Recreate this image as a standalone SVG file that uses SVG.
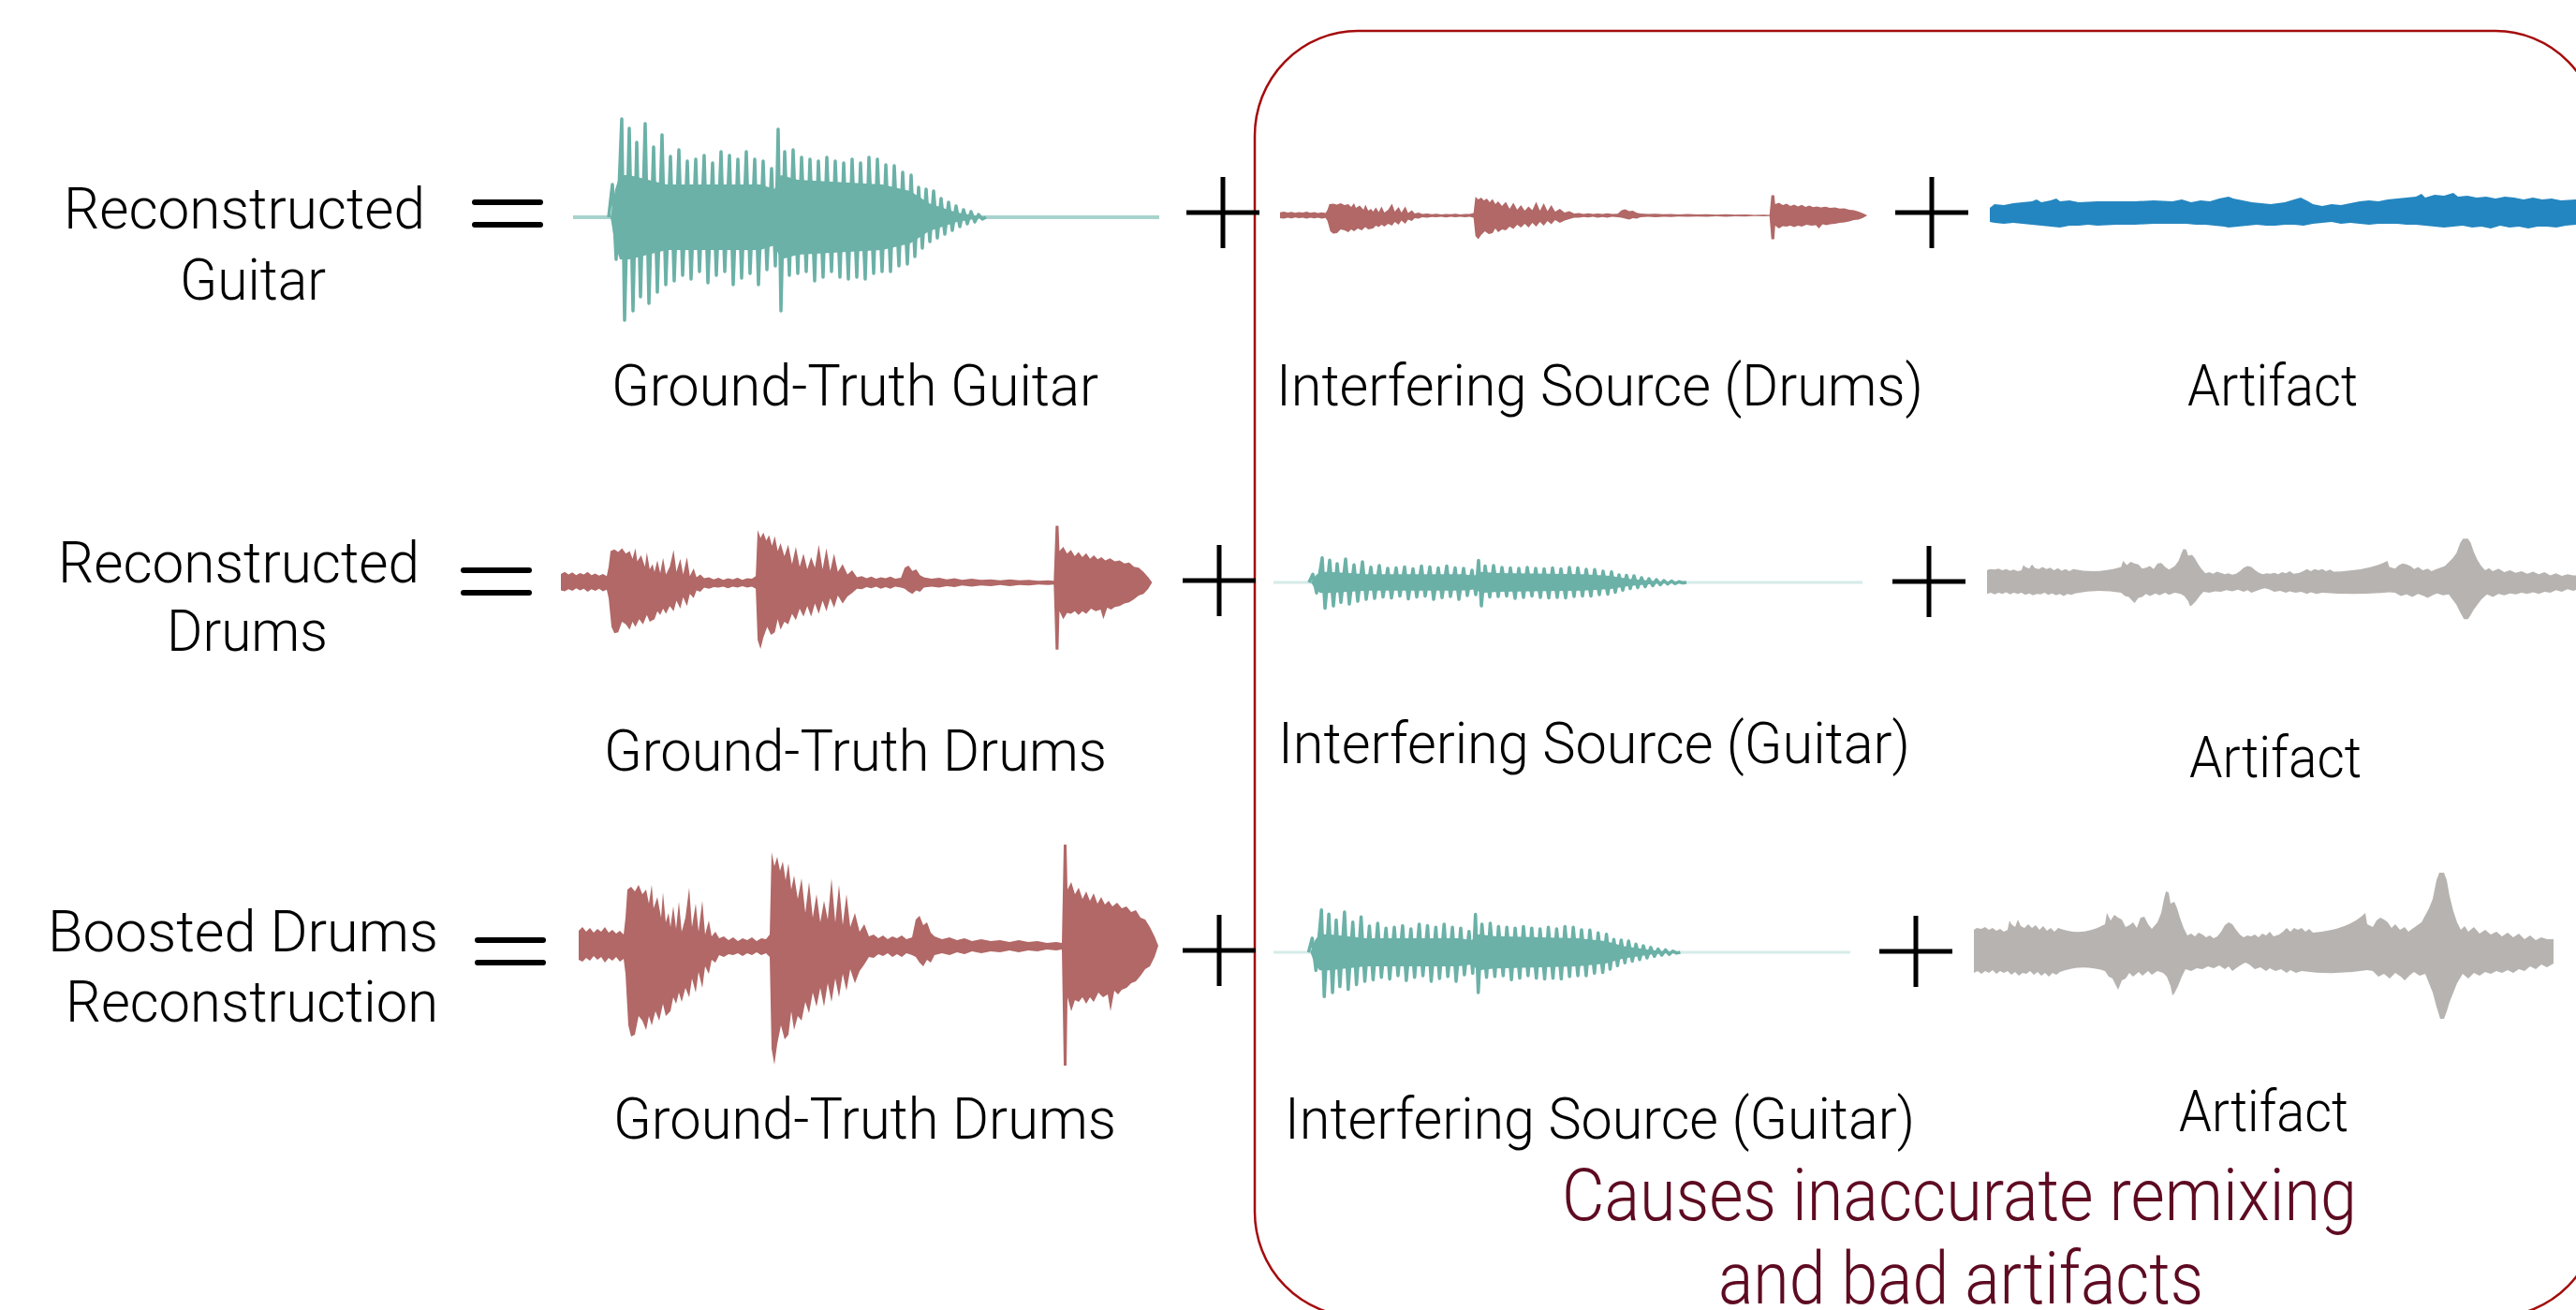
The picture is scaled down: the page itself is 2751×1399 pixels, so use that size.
<svg xmlns="http://www.w3.org/2000/svg" xmlns:xlink="http://www.w3.org/1999/xlink" width="2751" height="1399" viewBox="0 0 2751 1399">
  <style>
    .lbl { font-family: Roboto, "Liberation Sans", Arial, sans-serif; font-weight: 300; font-size: 62px; fill: #000; }
    .note { font-family: Roboto, "Liberation Sans", Arial, sans-serif; font-weight: 300; font-size: 78px; fill: #5e0b22; }
    .op { stroke: #000; stroke-width: 5; fill: none; }
    .eq { stroke: #000; stroke-width: 6; stroke-linecap: round; fill: none; }
    .teal-osc { fill: none; stroke: #6bb1a7; stroke-width: 3.5; stroke-linejoin: round; vector-effect: non-scaling-stroke; }
    .teal-core { fill: #6bb1a7; }
    .drum { fill: #b16867; }
    .noise-blue { fill: #2486c0; }
    .noise-grey { fill: #b7b3b0; }
  </style>
  <defs>
    <!-- plucked guitar note: zigzag oscillation with a dense core, local x 0..626, amplitude ~±105 -->
    <g id="guitarWave">
      <path class="teal-core" d="M40,0 L45,-30 L50,-45 L60,-45 L100,-35 L200,-35 L215,-30 L222,-45 L240,-40 L330,-35 L360,-28 L380,-15 L410,-5 L440,0 L410,5 L380,15 L360,28 L330,35 L240,40 L222,45 L215,30 L200,35 L100,35 L60,45 L50,45 L45,30 Z"/>
      <path class="teal-osc" d="M38,0 L42,-35 L46,45 L52,-105 L55,110 L60,-95 L64,100 L68,-80 L72,85 L77,-100 L81,92 L86,-75 L90,80 L95,-88 L99,72 L104,-65 L108,68 L113,-72 L117,62 L122,-60 L126,66 L131,-62 L135,58 L140,-66 L144,70 L149,-58 L153,62 L158,-70 L162,58 L167,-66 L171,72 L176,-62 L180,65 L185,-70 L189,60 L194,-62 L198,72 L203,-60 L207,56 L212,-52 L216,52 L219,-94 L222,100 L226,-70 L231,62 L235,-72 L240,60 L244,-64 L249,58 L253,-62 L258,68 L262,-60 L267,64 L271,-64 L276,58 L280,-60 L285,64 L289,-58 L294,66 L298,-62 L303,64 L307,-58 L312,66 L316,-64 L321,60 L325,-62 L330,58 L334,-56 L339,58 L343,-55 L348,52 L352,-48 L357,50 L361,-45 L365,42 L369,-32 L373,33 L377,-30 L381,26 L385,-28 L389,22 L393,-20 L397,18 L401,-16 L405,14 L409,-12 L413,10 L417,-8 L421,7 L425,-6 L429,5 L433,-3 L437,2 L441,0"/>
    </g>
    <!-- drum loop envelope: three hits and a small bump, local x 0..619 -->
    <path id="drumWave" class="drum" d="M0,-16 L4,-20 L8,-15 L12,-19 L16,-14 L20,-18 L24,-15 L28,-20 L32,-14 L36,-17 L40,-13 L44,-16 L48,-12 L50,-30 L52,-60 L56,-63 L60,-58 L64,-65 L68,-55 L72,-60 L75,-45 L78,-65 L80,-40 L84,-52 L88,-30 L90,-57 L93,-25 L96,-35 L98,-20 L101,-42 L104,-18 L107,-47 L110,-15 L114,-30 L118,-62 L121,-20 L125,-45 L128,-15 L132,-48 L135,-12 L139,-27 L142,-10 L146,-15 L150,-8 L155,-10 L160,-6 L165,-9 L170,-5 L175,-8 L180,-6 L185,-9 L190,-5 L195,-8 L200,-7 L204,-12 L206,-100 L209,-85 L212,-95 L215,-80 L218,-90 L221,-70 L224,-88 L227,-60 L230,-75 L234,-50 L238,-72 L242,-35 L246,-68 L250,-30 L254,-55 L258,-25 L262,-48 L266,-28 L270,-72 L274,-25 L278,-65 L282,-22 L286,-55 L290,-20 L295,-35 L300,-15 L305,-23 L310,-10 L315,-12 L320,-8 L325,-11 L330,-7 L335,-10 L340,-8 L345,-11 L350,-7 L356,-9 L360,-28 L364,-32 L368,-22 L372,-25 L376,-14 L380,-10 L388,-7 L396,-9 L404,-6 L412,-8 L420,-5 L430,-7 L440,-5 L450,-6 L460,-4 L470,-6 L480,-4 L490,-5 L500,-3 L510,-4 L516,-3 L518,-108 L521,-108 L522,-60 L526,-68 L530,-55 L534,-62 L538,-50 L542,-58 L546,-48 L550,-56 L554,-45 L558,-52 L562,-44 L566,-48 L570,-42 L575,-46 L580,-40 L585,-42 L590,-36 L595,-38 L600,-30 L605,-28 L610,-20 L615,-10 L619,0 L615,12 L610,22 L605,25 L600,32 L595,38 L590,40 L585,45 L580,47 L576,52 L572,48 L568,70 L565,52 L560,55 L555,50 L550,60 L546,55 L542,62 L538,55 L534,60 L530,58 L526,70 L522,55 L521,128 L518,128 L516,4 L510,5 L500,4 L490,6 L480,5 L470,7 L460,5 L450,7 L440,6 L430,8 L420,6 L412,9 L404,7 L396,10 L388,8 L380,10 L376,18 L372,15 L368,22 L364,18 L360,12 L356,10 L350,8 L345,12 L340,9 L335,12 L330,8 L325,11 L320,9 L315,13 L310,12 L305,20 L300,27 L295,40 L290,25 L286,48 L282,30 L278,55 L274,35 L270,60 L266,40 L262,65 L258,45 L254,65 L250,50 L246,72 L242,60 L238,80 L234,75 L230,90 L227,70 L224,95 L220,100 L216,85 L212,105 L209,127 L206,110 L204,12 L200,8 L195,10 L190,7 L185,10 L180,8 L175,11 L170,8 L165,10 L160,9 L155,12 L150,10 L146,18 L142,15 L139,30 L135,22 L132,45 L128,28 L125,50 L121,35 L118,55 L114,45 L110,60 L107,50 L104,62 L101,55 L98,70 L93,75 L90,62 L86,80 L82,70 L78,85 L75,75 L72,90 L68,80 L64,75 L60,95 L56,97 L53,85 L50,30 L48,14 L44,17 L40,12 L36,16 L32,13 L28,18 L24,12 L20,15 L16,11 L12,16 L8,13 L4,17 L0,15 Z"/>
    <!-- residual artifact envelope, local x 0..619 -->
    <path id="greyWave" class="noise-grey" d="M0,-22 L3,-24 L8,-23 L12,-25 L16,-22 L20,-24 L24,-21 L28,-23 L32,-20 L36,-22 L38,-32 L40,-28 L44,-25 L47,-33 L50,-26 L54,-24 L58,-28 L62,-24 L66,-27 L70,-22 L74,-26 L78,-21 L82,-24 L86,-20 L90,-24 Q115,-14 140,-28 L142,-40 L146,-32 L150,-38 L154,-35 L158,-33 L162,-25 L166,-27 L170,-30 L174,-24 L178,-35 L182,-36 L186,-28 L190,-23 L196,-30 L200,-40 L203,-55 L205,-63 L208,-62 L210,-50 L214,-52 L217,-45 L220,-35 L224,-24 L228,-16 L232,-18 L236,-15 L240,-19 L244,-17 L248,-14 L252,-16 L256,-13 L260,-15 L264,-20 L268,-27 L272,-30 L276,-28 L280,-22 L284,-17 L288,-14 L292,-16 L296,-15 L300,-17 L304,-14 L308,-18 L312,-16 L316,-20 L320,-15 L326,-17 L330,-20 L334,-24 L338,-20 L342,-24 L346,-22 L350,-24 L354,-20 L358,-23 L362,-19 Q400,-22 418,-40 L420,-28 L426,-25 L430,-32 L434,-35 L438,-33 L442,-30 L446,-24 L450,-28 L455,-22 L460,-25 L464,-20 L468,-23 L478,-30 L486,-45 L490,-55 L494,-75 L497,-83 L502,-83 L505,-75 L508,-58 L512,-42 L516,-30 L520,-22 L524,-26 L528,-20 L534,-25 L540,-18 L546,-22 L552,-17 L558,-20 L564,-15 L570,-19 L576,-14 L582,-18 L588,-12 L594,-16 L600,-11 L606,-14 L612,-12 L619,-12 L619,14 L612,18 L606,15 L600,20 L594,17 L588,22 L582,20 L576,24 L570,21 L564,24 L558,22 L552,25 L546,23 L540,27 L534,24 L528,30 L522,25 L516,35 L512,45 L508,55 L505,65 L502,73 L498,73 L494,60 L490,45 L486,35 L482,25 L476,27 L470,23 L466,26 L460,32 L456,28 L450,24 L444,30 L438,25 L432,28 L426,22 L420,21 Q385,27 350,22 L344,24 L338,21 L334,24 L328,20 L322,22 L316,19 L312,22 L306,18 L300,20 L294,15 L290,13 L286,15 L280,19 L276,22 L272,17 L268,20 L262,16 L256,19 L250,17 L244,20 L238,19 L232,22 L226,20 L222,28 L218,38 L214,46 L212,48 L210,38 L206,28 L202,24 L196,22 L190,26 L186,22 L180,27 L176,23 L170,28 L166,24 L162,30 L158,32 L154,42 L152,38 L148,30 L144,28 L140,22 Q115,14 92,23 L88,26 L84,24 L80,28 L76,24 L72,27 L68,23 L64,26 L60,22 L56,25 L52,24 L48,27 L44,23 L40,26 L36,22 L32,24 L28,22 L24,25 L20,21 L16,24 L12,22 L8,25 L4,22 L0,24 Z"/>
    <g id="plus">
      <line class="op" x1="-39" y1="0" x2="39" y2="0"/>
      <line class="op" x1="0" y1="-38" x2="0" y2="38"/>
    </g>
    <g id="equals">
      <line class="eq" x1="-35" y1="-12" x2="35" y2="-12"/>
      <line class="eq" x1="-35" y1="12" x2="35" y2="12"/>
    </g>
  </defs>

  <rect width="2751" height="1399" fill="#fff"/>

  <!-- highlight frame around the unwanted components -->
  <g id="highlight-frame">
    <rect x="1340" y="33" width="1435" height="1373" rx="110" ry="112" fill="none" stroke="#a40c0c" stroke-width="2.5"/>
  </g>

  <!-- row 1: guitar -->
  <g id="row1-label">
    <text class="lbl" x="68" y="244" textLength="386" lengthAdjust="spacingAndGlyphs">Reconstructed</text>
    <text class="lbl" x="192" y="320" textLength="156" lengthAdjust="spacingAndGlyphs">Guitar</text>
  </g>
  <g id="row1-gt-guitar">
    <line x1="612" y1="232" x2="1238" y2="232" stroke="#a8d3cc" stroke-width="4"/>
    <use xlink:href="#guitarWave" transform="translate(612,232)"/>
    <text class="lbl" x="653" y="433" textLength="520" lengthAdjust="spacingAndGlyphs">Ground-Truth Guitar</text>
  </g>
  <g id="row1-interf-drums">
    <use xlink:href="#drumWave" transform="translate(1367,230) scale(1.013,0.2)"/>
    <text class="lbl" x="1363" y="433" textLength="691" lengthAdjust="spacingAndGlyphs">Interfering Source (Drums)</text>
  </g>
  <g id="row1-artifact">
    <path class="noise-blue" d="M2125,222 L2130,218 L2140,219 L2150,217 L2160,216 L2170,215 L2175,213 L2180,216 L2190,214 L2196,212 L2200,215 L2210,214 L2220,216 L2240,215 L2260,215 L2280,215 L2300,214 L2320,215 L2330,213 L2340,216 L2350,214 L2360,215 L2370,212 L2380,210 L2385,212 L2395,214 L2405,216 L2415,217 L2425,218 L2440,216 L2450,213 L2457,211 L2465,215 L2470,218 L2480,220 L2490,218 L2500,219 L2510,217 L2520,215 L2530,214 L2540,215 L2550,213 L2560,212 L2570,211 L2580,210 L2586,207 L2590,211 L2600,208 L2610,209 L2620,206 L2625,210 L2635,209 L2645,211 L2655,210 L2665,212 L2675,210 L2685,211 L2695,213 L2705,211 L2715,213 L2725,212 L2735,214 L2751,213 L2751,240 L2740,241 L2730,243 L2720,242 L2710,242 L2700,244 L2690,242 L2680,243 L2670,241 L2660,244 L2650,242 L2640,243 L2630,241 L2620,242 L2610,243 L2600,242 L2590,241 L2580,240 L2570,240 L2560,239 L2550,239 L2540,239 L2530,240 L2520,239 L2510,238 L2500,239 L2490,237 L2480,238 L2470,239 L2460,241 L2450,240 L2440,240 L2430,241 L2420,241 L2410,240 L2400,241 L2390,242 L2380,243 L2375,242 L2365,241 L2355,240 L2345,240 L2335,239 L2320,239 L2300,239 L2280,240 L2260,240 L2240,241 L2230,240 L2220,241 L2210,241 L2200,243 L2190,242 L2180,241 L2170,240 L2160,239 L2150,238 L2140,239 L2130,238 L2125,237 Z"/>
    <text class="lbl" x="2336" y="433" textLength="182" lengthAdjust="spacingAndGlyphs">Artifact</text>
  </g>

  <!-- row 2: drums -->
  <g id="row2-label">
    <text class="lbl" x="62" y="622" textLength="386" lengthAdjust="spacingAndGlyphs">Reconstructed</text>
    <text class="lbl" x="178" y="695" textLength="172" lengthAdjust="spacingAndGlyphs">Drums</text>
  </g>
  <g id="row2-gt-drums">
    <use xlink:href="#drumWave" transform="translate(599,622) scale(1.02,0.56)"/>
    <text class="lbl" x="645" y="823" textLength="537" lengthAdjust="spacingAndGlyphs">Ground-Truth Drums</text>
  </g>
  <g id="row2-interf-guitar">
    <line x1="1360" y1="622" x2="1989" y2="622" stroke="#d6ece8" stroke-width="3"/>
    <use xlink:href="#guitarWave" transform="translate(1360,622) scale(1.0,0.25)"/>
    <text class="lbl" x="1365" y="815" textLength="675" lengthAdjust="spacingAndGlyphs">Interfering Source (Guitar)</text>
  </g>
  <g id="row2-artifact">
    <use xlink:href="#greyWave" transform="translate(2122,621) scale(1.023,0.55)"/>
    <text class="lbl" x="2338" y="830" textLength="184" lengthAdjust="spacingAndGlyphs">Artifact</text>
  </g>

  <!-- row 3: boosted drums -->
  <g id="row3-label">
    <text class="lbl" x="51" y="1016" textLength="417" lengthAdjust="spacingAndGlyphs">Boosted Drums</text>
    <text class="lbl" x="70" y="1091" textLength="398" lengthAdjust="spacingAndGlyphs">Reconstruction</text>
  </g>
  <g id="row3-gt-drums">
    <use xlink:href="#drumWave" transform="translate(618,1010)"/>
    <text class="lbl" x="655" y="1216" textLength="537" lengthAdjust="spacingAndGlyphs">Ground-Truth Drums</text>
  </g>
  <g id="row3-interf-guitar">
    <line x1="1360" y1="1017" x2="1976" y2="1017" stroke="#d6ece8" stroke-width="3"/>
    <use xlink:href="#guitarWave" transform="translate(1360,1017) scale(0.985,0.43)"/>
    <text class="lbl" x="1372" y="1216" textLength="673" lengthAdjust="spacingAndGlyphs">Interfering Source (Guitar)</text>
  </g>
  <g id="row3-artifact">
    <use xlink:href="#greyWave" transform="translate(2108,1015)"/>
    <text class="lbl" x="2327" y="1208" textLength="181" lengthAdjust="spacingAndGlyphs">Artifact</text>
  </g>

  <!-- equation operators -->
  <g id="operators">
    <use xlink:href="#equals" transform="translate(542,228)"/>
    <use xlink:href="#equals" transform="translate(530,621)"/>
    <use xlink:href="#equals" transform="translate(545,1016)"/>
    <use xlink:href="#plus" transform="translate(1306,227)"/>
    <use xlink:href="#plus" transform="translate(2063,227)"/>
    <use xlink:href="#plus" transform="translate(1302,620)"/>
    <use xlink:href="#plus" transform="translate(2060,621)"/>
    <use xlink:href="#plus" transform="translate(1302,1015)"/>
    <use xlink:href="#plus" transform="translate(2046,1016)"/>
  </g>

  <!-- takeaway note -->
  <g id="note">
    <text class="note" x="1668" y="1303" textLength="849" lengthAdjust="spacingAndGlyphs">Causes inaccurate remixing</text>
    <text class="note" x="1835" y="1392" textLength="518" lengthAdjust="spacingAndGlyphs">and bad artifacts</text>
  </g>
</svg>
